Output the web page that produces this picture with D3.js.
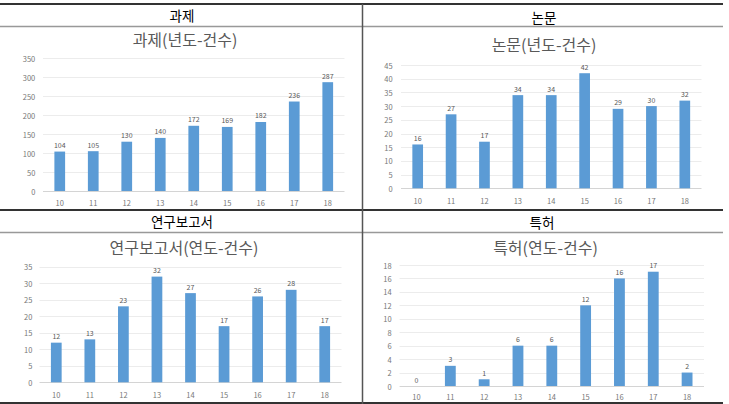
<!DOCTYPE html>
<html>
<head>
<meta charset="utf-8">
<script src="https://cdn.jsdelivr.net/npm/d3@7"></script>
<style>
  html, body { margin: 0; padding: 0; background: #fff; }
  svg { display: block; font-family: "Noto Sans CJK KR", "Noto Sans", sans-serif; }
</style>
</head>
<body>
<svg id="chart" width="729" height="404"></svg>
<script>
;(function (window, d3) {
  'use strict';

  // data
  var years = ["10", "11", "12", "13", "14", "15", "16", "17", "18"];
  var taskCounts = [104, 105, 130, 140, 172, 169, 182, 236, 287];
  var paperCounts = [16, 27, 17, 34, 34, 42, 29, 30, 32];
  var reportCounts = [12, 13, 23, 32, 27, 17, 26, 28, 17];
  var patentCounts = [0, 3, 1, 6, 6, 12, 16, 17, 2];

  var headers = ["과제", "논문", "연구보고서", "특허"];
  var titles = ["과제(년도-건수)", "논문(년도-건수)", "연구보고서(연도-건수)", "특허(연도-건수)"];
  var yMaxes = [350, 45, 35, 18];
  var ySteps = [50, 5, 5, 2];

  var svg = d3.select("#chart");

  // table frame
  var frame = svg.append("g").attr("class", "frame");
  frame.append("line").attr("x1", 0).attr("x2", 723).attr("y1", 4).attr("y2", 4)
    .attr("stroke", "#333").attr("stroke-width", 2);
  frame.append("line").attr("x1", 0).attr("x2", 723).attr("y1", 26.5).attr("y2", 26.5)
    .attr("stroke", "#999").attr("stroke-width", 1.5);
  frame.append("line").attr("x1", 0).attr("x2", 723).attr("y1", 210).attr("y2", 210)
    .attr("stroke", "#333").attr("stroke-width", 2);
  frame.append("line").attr("x1", 0).attr("x2", 723).attr("y1", 232.5).attr("y2", 232.5)
    .attr("stroke", "#999").attr("stroke-width", 1.5);
  frame.append("line").attr("x1", 0).attr("x2", 723).attr("y1", 403).attr("y2", 403)
    .attr("stroke", "#333").attr("stroke-width", 2);
  frame.append("line").attr("x1", 362.5).attr("x2", 362.5).attr("y1", 4).attr("y2", 404)
    .attr("stroke", "#555").attr("stroke-width", 1.5);

  // layout of each panel
  var panels = [
    { values: taskCounts, hx: 182, hy: 15, tx: 185, ty: 38.5, x0: 43, x1: 344.5, yb: 191, yt: 58.3, ly: 202.3, tr: 35.3 },
    { values: paperCounts, hx: 544, hy: 16.5, tx: 544, ty: 44, x0: 401, x1: 701.5, yb: 188.3, yt: 65, ly: 200.7, tr: 392.7 },
    { values: reportCounts, hx: 182, hy: 221, tx: 184, ty: 246.5, x0: 39.5, x1: 341.5, yb: 382.3, yt: 266.7, ly: 394.3, tr: 32.3 },
    { values: patentCounts, hx: 542, hy: 221.5, tx: 545.5, ty: 246.5, x0: 399.6, x1: 704, yb: 386, yt: 265, ly: 396, tr: 391.7 }
  ];

  function drawPanel(p, i) {
    var g = svg.append("g").attr("class", "panel");

    g.append("text")
      .attr("x", p.hx).attr("y", p.hy)
      .attr("text-anchor", "middle").attr("dominant-baseline", "central")
      .attr("font-size", 13.5).attr("font-weight", 400).attr("fill", "#000")
      .text(headers[i]);

    g.append("text")
      .attr("x", p.tx).attr("y", p.ty)
      .attr("text-anchor", "middle").attr("dominant-baseline", "central")
      .attr("font-size", 16).attr("fill", "#595959")
      .text(titles[i]);

    var x = d3.scaleBand().domain(years).range([p.x0, p.x1])
      .paddingInner(0.68).paddingOuter(0.34);
    var y = d3.scaleLinear().domain([0, yMaxes[i]]).range([p.yb, p.yt]);
    var ticks = d3.range(0, yMaxes[i] + ySteps[i] / 2, ySteps[i]);

    g.selectAll(".grid").data(ticks).enter().append("line")
      .attr("class", "grid")
      .attr("x1", p.x0).attr("x2", p.x1)
      .attr("y1", function (d) { return Math.round(y(d)) + 0.5; })
      .attr("y2", function (d) { return Math.round(y(d)) + 0.5; })
      .attr("stroke", function (d) { return d === 0 ? "#d4d4d4" : "#ececec"; })
      .attr("stroke-width", 1);

    g.selectAll(".ytick").data(ticks).enter().append("text")
      .attr("class", "ytick")
      .attr("x", p.tr).attr("y", function (d) { return y(d); })
      .attr("text-anchor", "end").attr("dominant-baseline", "central")
      .attr("font-size", 7.5).attr("fill", "#777")
      .text(function (d) { return d; });

    g.selectAll(".bar").data(p.values).enter().append("rect")
      .attr("class", "bar")
      .attr("x", function (d, j) { return x(years[j]); })
      .attr("width", x.bandwidth())
      .attr("y", function (d) { return y(d); })
      .attr("height", function (d) { return p.yb - y(d); })
      .attr("fill", "#5b9bd5");

    g.selectAll(".val").data(p.values).enter().append("text")
      .attr("class", "val")
      .attr("x", function (d, j) { return x(years[j]) + x.bandwidth() / 2; })
      .attr("y", function (d) { return y(d) - 6.5; })
      .attr("text-anchor", "middle").attr("dominant-baseline", "central")
      .attr("font-size", 7).attr("fill", "#595959")
      .text(function (d) { return d; });

    g.selectAll(".xlab").data(years).enter().append("text")
      .attr("class", "xlab")
      .attr("x", function (d) { return x(d) + x.bandwidth() / 2; })
      .attr("y", p.ly)
      .attr("text-anchor", "middle").attr("dominant-baseline", "central")
      .attr("font-size", 7.5).attr("fill", "#777")
      .text(function (d) { return d; });
  }

  panels.forEach(drawPanel);

})(window, window.d3);
</script>
</body>
</html>
